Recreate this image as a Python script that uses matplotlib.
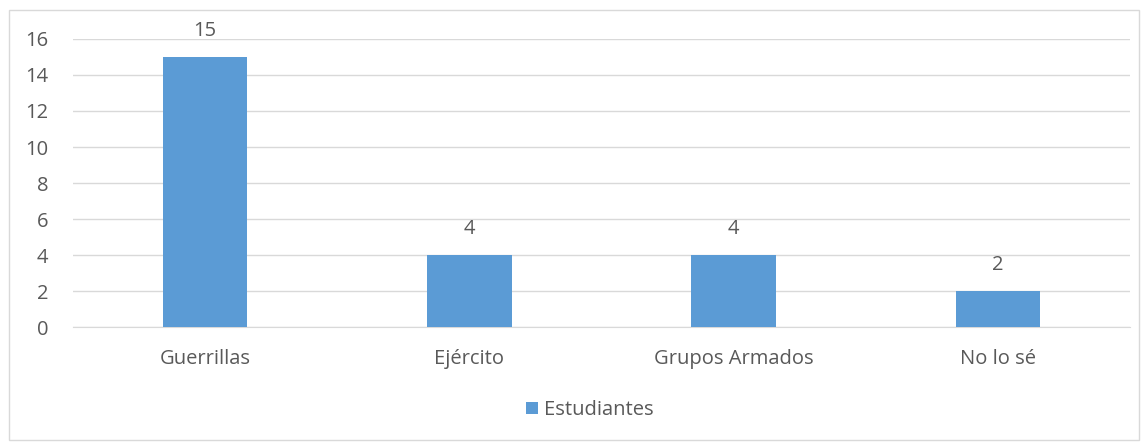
import matplotlib
matplotlib.use("Agg")
import matplotlib.pyplot as plt
from matplotlib.patches import Rectangle

categories = ["Guerrillas", "Ejército", "Grupos Armados", "No lo sé"]
estudiantes = [15, 4, 4, 2]
y_ticks = [0, 2, 4, 6, 8, 10, 12, 14, 16]

text_color = "#595959"
bar_color = "#5B9BD5"
grid_color = "#D9D9D9"
fsize = 14.5

plt.rcParams["font.family"] = ["Open Sans", "DejaVu Sans"]

fig = plt.figure(figsize=(11.47, 4.44), dpi=100, facecolor="white")

# Outer chart border
fig.patches.append(Rectangle((9 / 1147, 4 / 444), 1130 / 1147, 430 / 444,
                             transform=fig.transFigure, fill=False,
                             edgecolor=grid_color, linewidth=1))

ax = fig.add_axes([73 / 1147, 1 - 327 / 444, 1057 / 1147, 288 / 444])
x = list(range(len(categories)))
bars = ax.bar(x, estudiantes, width=0.32, color=bar_color, label="Estudiantes", zorder=3)

for xi, v in zip(x, estudiantes):
    ax.text(xi, v + 1.45, str(v), ha="center", va="center", fontsize=fsize, color=text_color)

ax.set_xlim(-0.5, len(categories) - 0.5)
ax.set_ylim(0, 16)
ax.set_yticks(y_ticks)
ax.set_xticks(x)
ax.set_xticklabels(categories)
ax.tick_params(axis="both", length=0, labelsize=fsize, labelcolor=text_color)
ax.tick_params(axis="x", pad=16)
ax.tick_params(axis="y", pad=18)
ax.grid(axis="y", color=grid_color, linewidth=1, zorder=0)
for s in ["top", "right", "left"]:
    ax.spines[s].set_visible(False)
ax.spines["bottom"].set_color(grid_color)

fig.legend(handles=[bars], labels=["Estudiantes"], loc="center",
           bbox_to_anchor=(590 / 1147, 1 - 410 / 444), frameon=False,
           fontsize=fsize, labelcolor=text_color, handlelength=0.6, handleheight=0.6,
           handletextpad=0.3)

fig.savefig("out.png", dpi=100, facecolor="white")
